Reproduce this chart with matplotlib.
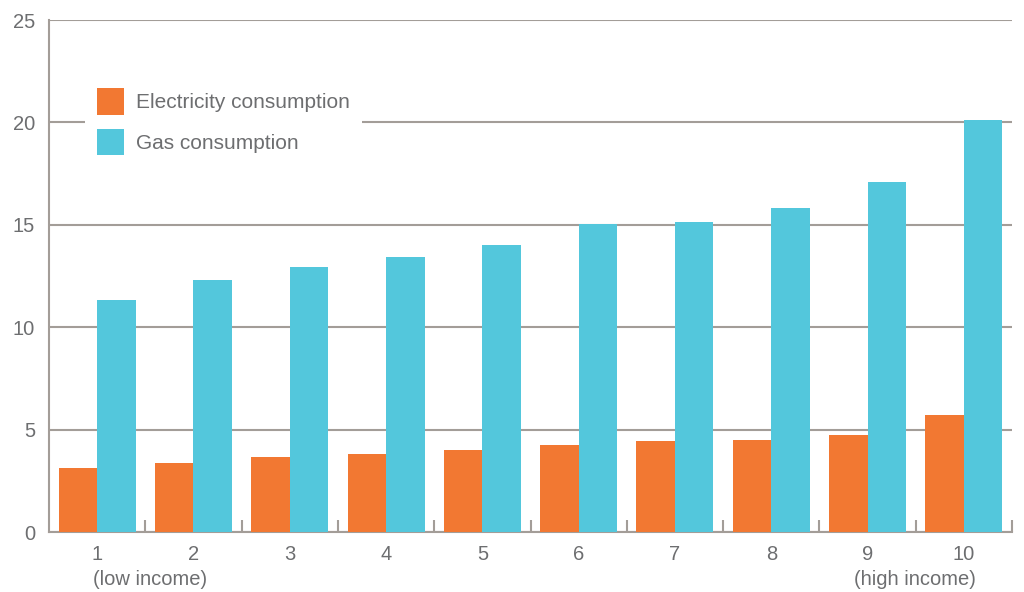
import matplotlib

matplotlib.use("Agg")
import matplotlib.pyplot as plt
import numpy as np

# Household consumption by income decile
deciles = ["1", "2", "3", "4", "5", "6", "7", "8", "9", "10"]
low_note = "(low income)"
high_note = "(high income)"
electricity = [3.12, 3.36, 3.65, 3.80, 3.99, 4.24, 4.43, 4.48, 4.72, 5.70]
gas = [11.35, 12.32, 12.96, 13.45, 14.0, 15.04, 15.15, 15.83, 17.1, 20.12]
y_ticks = [0, 5, 10, 15, 20, 25]

ORANGE = "#f27832"
CYAN = "#53c7dc"
GRID = "#a39d98"
TEXT = "#6d6e70"

plt.rcParams["font.family"] = ["Liberation Sans", "DejaVu Sans"]

fig = plt.figure(figsize=(10.24, 5.92), dpi=100)
ax = fig.add_axes([49 / 1024, 60 / 592, 963 / 1024, 512 / 592])

x = np.arange(len(deciles))
width = 0.4
ax.bar(x - width / 2, electricity, width, color=ORANGE, label="Electricity consumption", zorder=3)
ax.bar(x + width / 2, gas, width, color=CYAN, label="Gas consumption", zorder=3)

ax.set_xlim(-0.5, len(deciles) - 0.5)
ax.set_ylim(0, 25)
ax.set_yticks(y_ticks)
ax.yaxis.grid(True, color=GRID, linewidth=1.5, zorder=0)
ax.set_axisbelow(True)

# category labels centred, small dividers between groups
ax.set_xticks(x)
ax.set_xticklabels(deciles)
ax.set_xticks(np.arange(len(deciles)) + 0.5, minor=True)
ax.tick_params(axis="x", which="major", length=0, pad=9, labelsize=14.5, labelcolor=TEXT)
ax.tick_params(axis="x", which="minor", direction="in", length=9, width=1.5, color=GRID)
ax.tick_params(axis="y", length=0, pad=10, labelsize=14.5, labelcolor=TEXT)

# income notes under the first and last decile
trans = ax.get_xaxis_transform()
ax.text(x[0] - 0.045, -0.093, low_note, transform=trans, ha="left", va="center",
        fontsize=14.5, color=TEXT)
ax.text(x[-1] + 0.12, -0.093, high_note, transform=trans, ha="right", va="center",
        fontsize=14.5, color=TEXT)

for side in ("top", "right"):
    ax.spines[side].set_visible(False)
for side in ("left", "bottom"):
    ax.spines[side].set_color(GRID)
    ax.spines[side].set_linewidth(1.5)

leg = ax.legend(
    loc="upper left",
    bbox_to_anchor=(0.0374, 0.891),
    frameon=True,
    framealpha=1,
    edgecolor="none",
    fancybox=False,
    fontsize=15,
    handlelength=1.3,
    handleheight=1.6,
    handletextpad=0.55,
    labelspacing=0.67,
    borderpad=0.58,
    borderaxespad=0,
)
for t in leg.get_texts():
    t.set_color(TEXT)

fig.savefig("out.png", dpi=100)
